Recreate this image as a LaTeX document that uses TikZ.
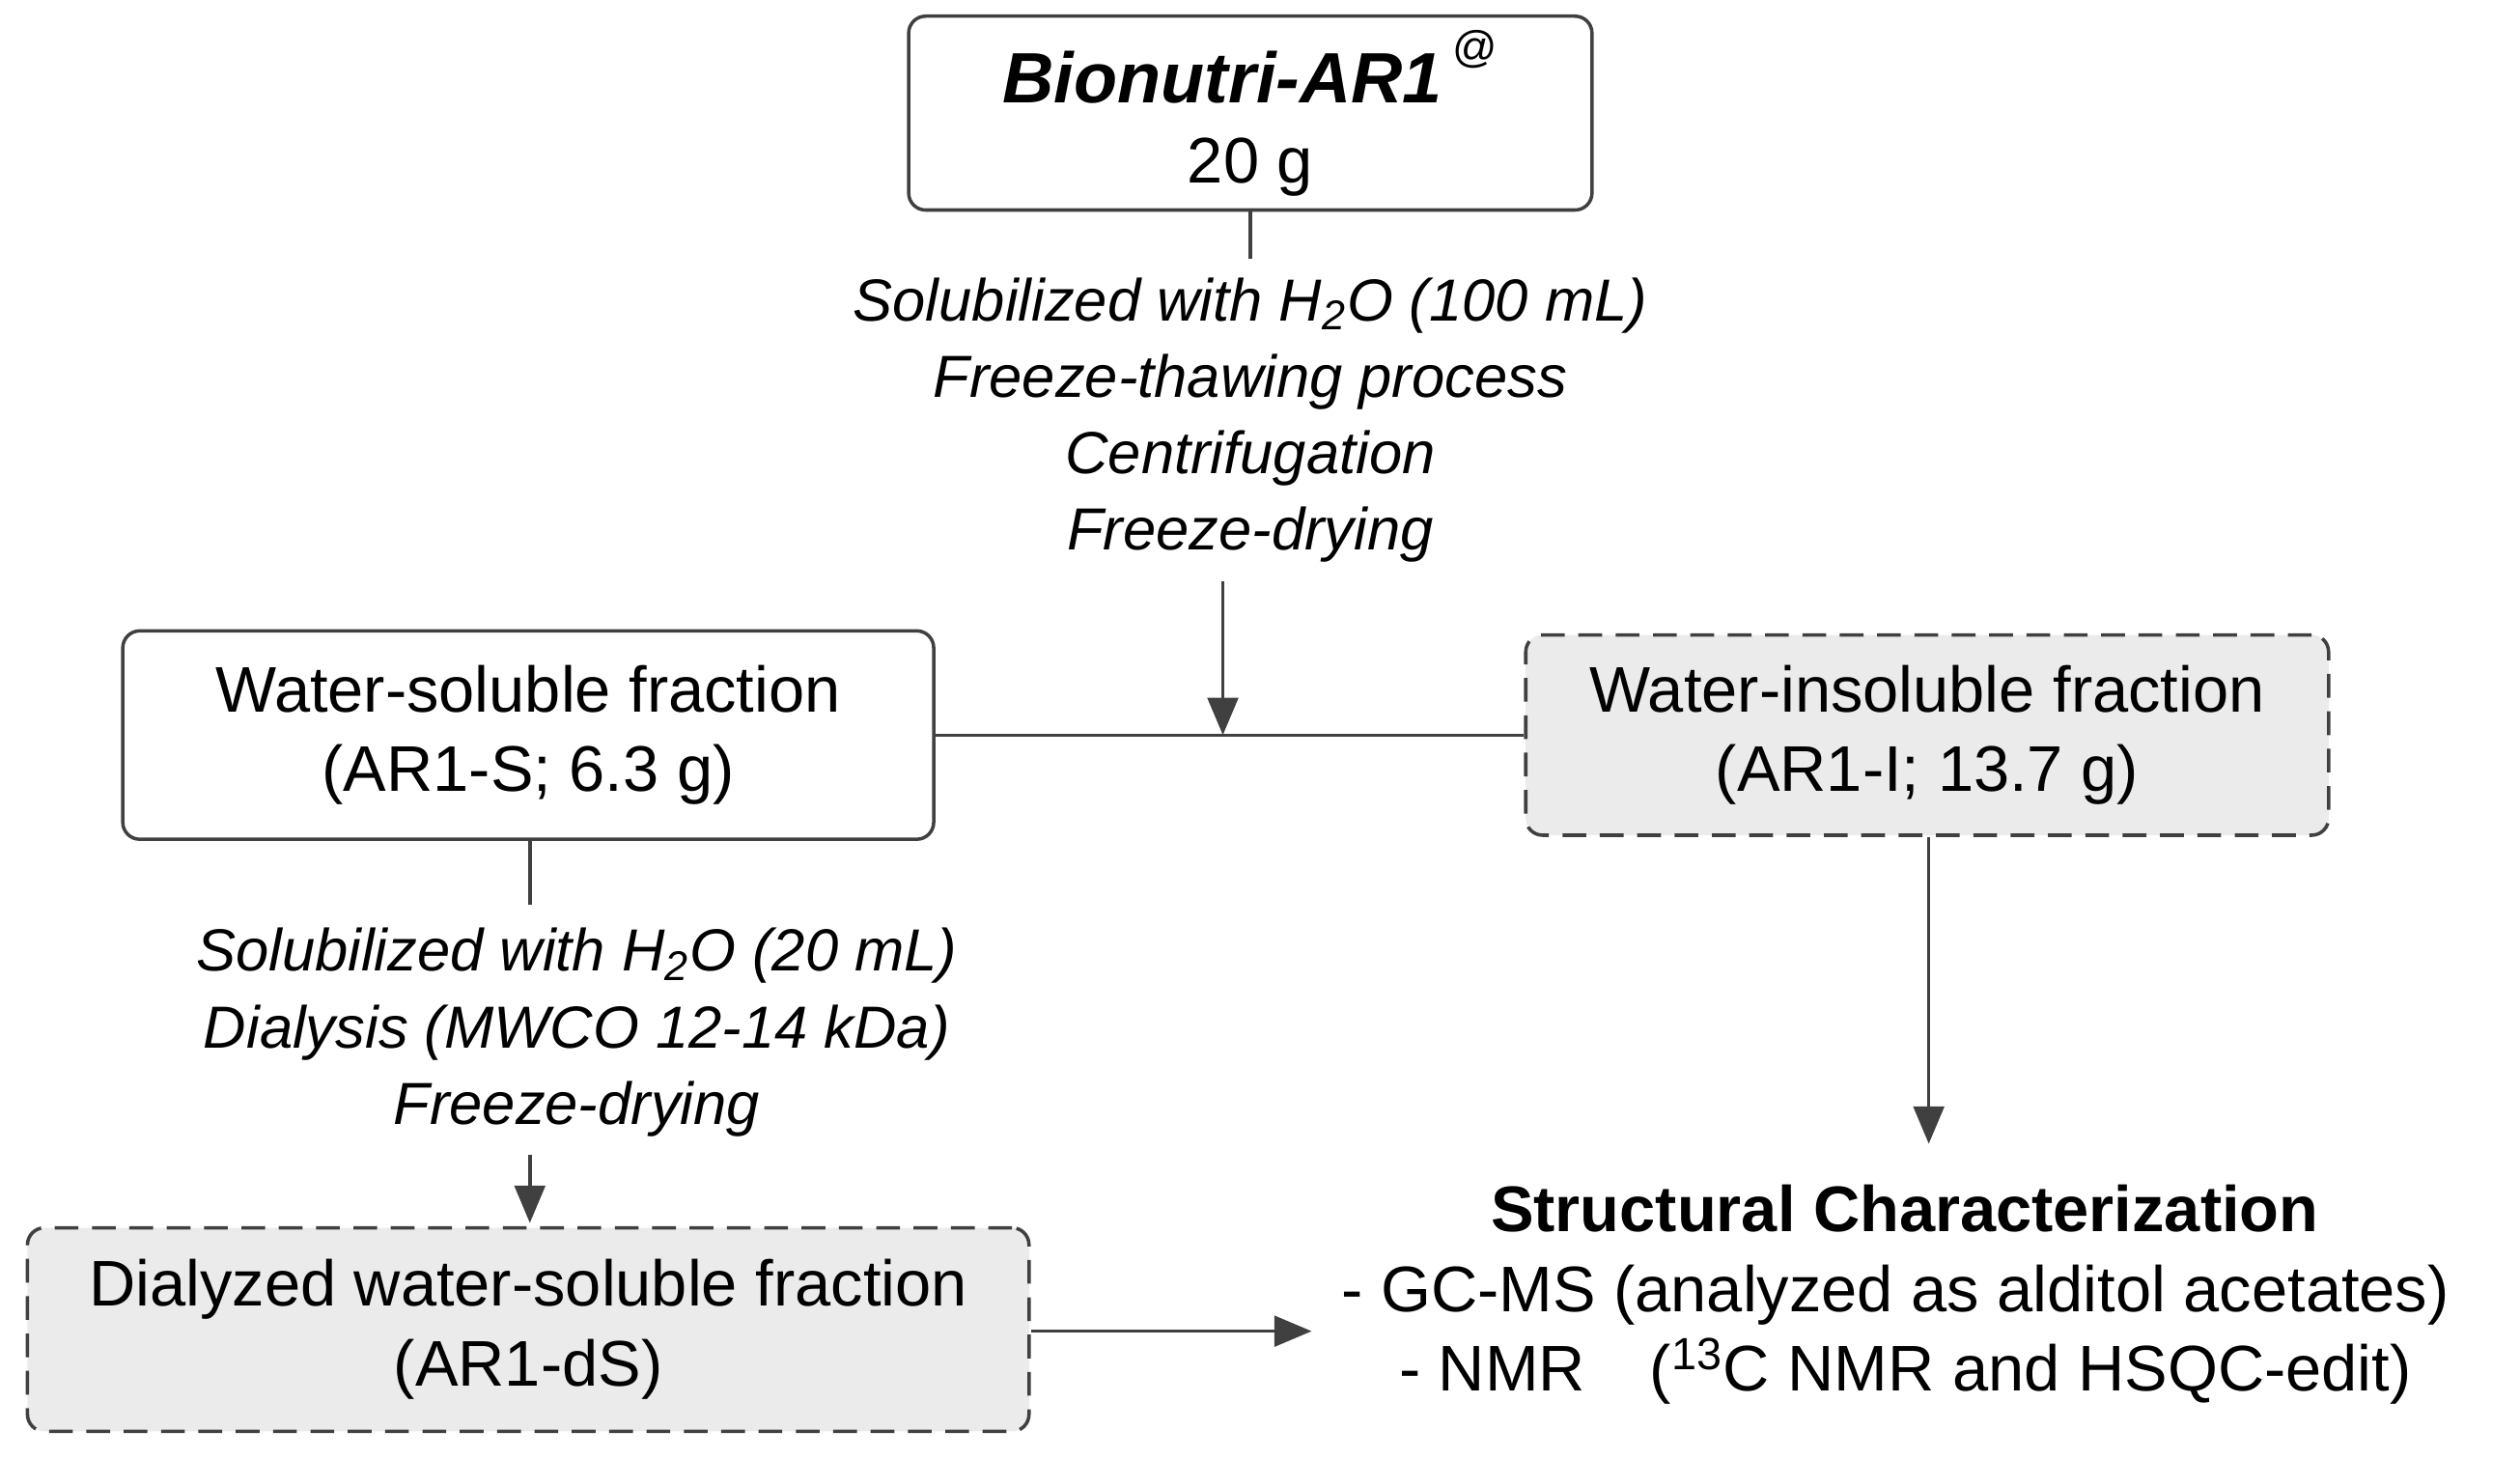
\documentclass[tikz,border=0pt]{standalone}
\usepackage{fontspec}
\setmainfont{Liberation Sans}
\usetikzlibrary{arrows.meta}
\begin{document}
\begin{tikzpicture}[x=0.01673cm,y=-0.01673cm,
  box/.style={draw=black!75,line width=1pt,rounded corners=5pt,inner sep=0pt},
  dbox/.style={box,dashed,dash pattern=on 7pt off 4pt,fill=black!8},
  txt/.style={align=center,font=\fontsize{19}{23.5}\selectfont},
  proc/.style={align=center,font=\fontsize{17.5}{22.5}\selectfont\itshape},
  ln/.style={draw=black!75,line width=1pt},
  arr/.style={ln,-{Triangle[length=11pt,width=9pt]}}]
\useasboundingbox (0,0) rectangle (1560,903);
\node[box,minimum width=423*0.01673cm,minimum height=120*0.01673cm] (top) at (774,70) {};
\node[txt] (toptxt) at (774,70) {{\fontsize{21}{23.5}\selectfont\bfseries\itshape Bionutri-AR1}\,\raisebox{1.2ex}{\fontsize{13}{13}\selectfont @}\\20 g};
\node[proc] (s1) at (774,260) {Solubilized with H\textsubscript{2}O (100 mL)\\Freeze-thawing process\\Centrifugation\\Freeze-drying};
\node[box,minimum width=502*0.01673cm,minimum height=129*0.01673cm,txt] (ws) at (327,455) {Water-soluble fraction\\(AR1-S; 6.3 g)};
\node[dbox,minimum width=497*0.01673cm,minimum height=124*0.01673cm,txt] (wi) at (1193,455) {Water-insoluble fraction\\(AR1-I; 13.7 g)};
\node[proc] (s2) at (357,639) {Solubilized with H\textsubscript{2}O (20 mL)\\Dialysis (MWCO 12-14 kDa)\\Freeze-drying};
\node[dbox,minimum width=620*0.01673cm,minimum height=126*0.01673cm,txt] (ds) at (327,823) {Dialyzed water-soluble fraction\\(AR1-dS)};
\node[txt,align=left,anchor=north west,inner sep=0pt] (sc) at (830,733) {\hspace*{44pt}\bfseries Structural Characterization\\- GC-MS (analyzed as alditol acetates)\\\hspace*{17pt}- NMR\quad(\textsuperscript{13}C NMR and HSQC-edit)};
\coordinate (j) at (757,455);
\coordinate (t1) at (774,160);
\coordinate (a1) at (757,360);
\coordinate (t2) at (328,560);
\coordinate (a2) at (328,715);
\coordinate (a2e) at (328,757);
\coordinate (e1) at (812,824);
\coordinate (e2) at (1194,708);
\draw[ln] (top.south) -- (t1);
\draw[arr] (a1) -- (j);
\draw[ln] (ws.east) -- (wi.west);
\draw[ln] (ws.south -| t2) -- (t2);
\draw[arr] (a2) -- (a2e);
\draw[arr] (ds.east |- e1) -- (e1);
\draw[arr] (wi.south -| e2) -- (e2);
\end{tikzpicture}
\end{document}
